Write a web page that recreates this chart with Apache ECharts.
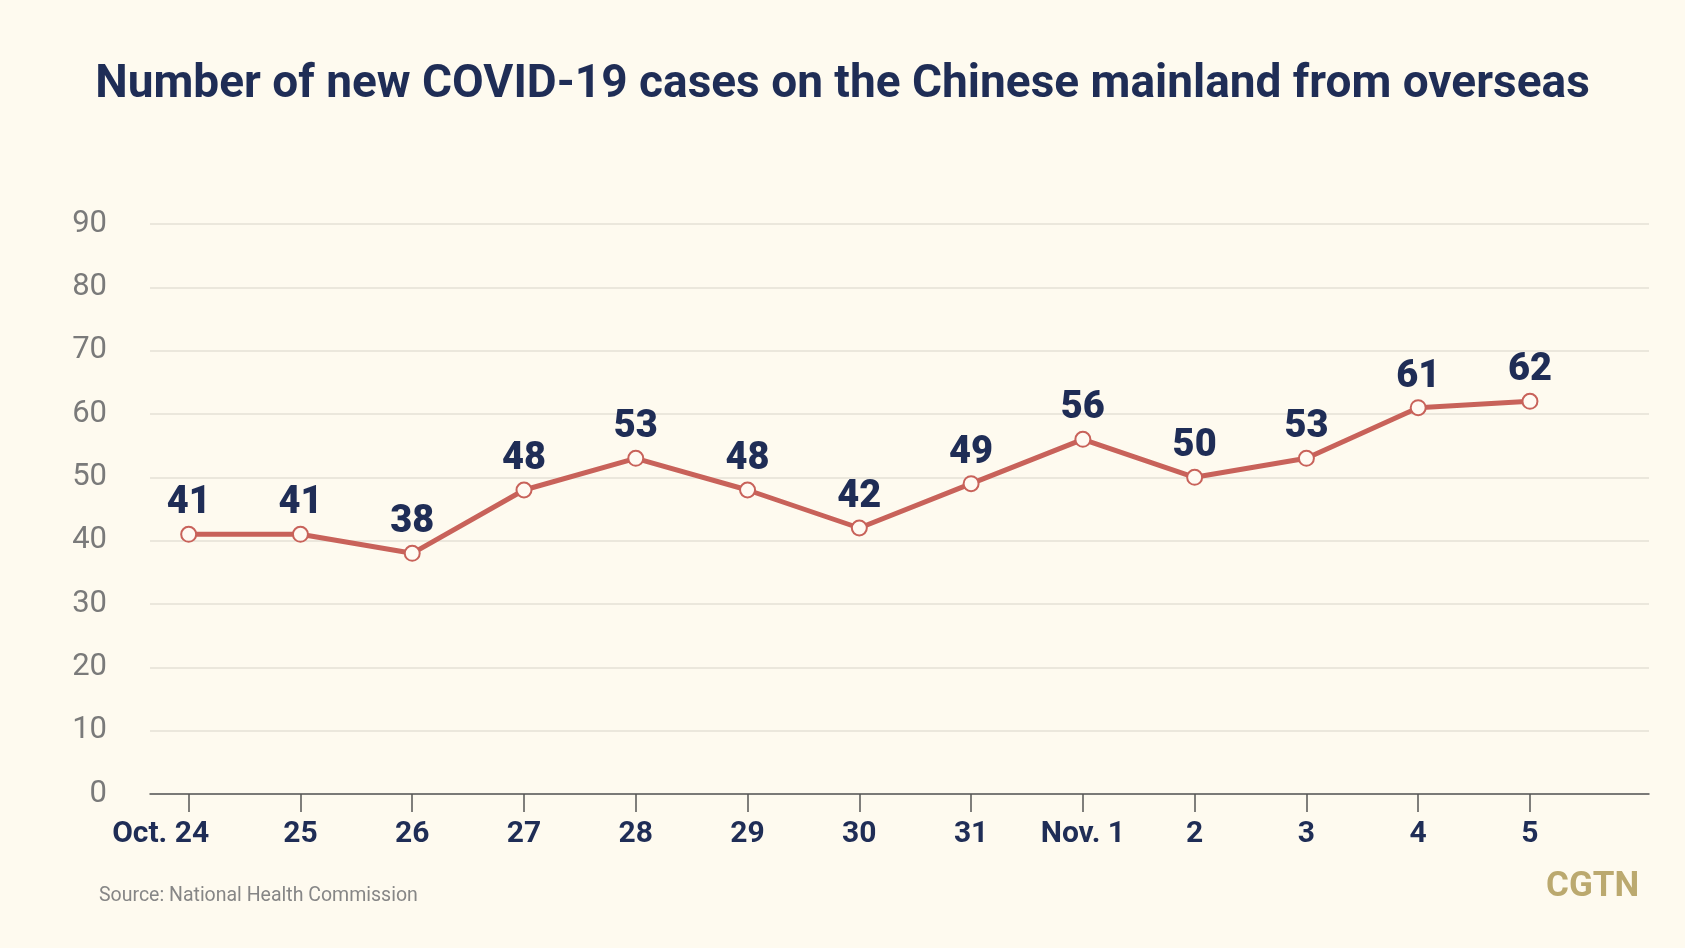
<!DOCTYPE html>
<html>
<head>
<meta charset="utf-8">
<script src="https://cdn.jsdelivr.net/npm/echarts@6/dist/echarts.min.js"></script>
<style>
html,body{margin:0;padding:0;background:#fefaef;}
#chart{width:1685px;height:948px;}
</style>
</head>
<body>
<div id="chart"></div>
<script>
const categories = ['Oct. 24','25','26','27','28','29','30','31','Nov. 1','2','3','4','5'];
const newCases = [41,41,38,48,53,48,42,49,56,50,53,61,62];
const yTicks = [0,10,20,30,40,50,60,70,80,90];

const FONT = 'Roboto, "Noto Sans", sans-serif';
const NAVY = '#1f2d56';
const LINE = '#c8625a';

const points = newCases.map((v, i) => [i, v]);
const tickIdx = categories.map((c, i) => i);

const chart = echarts.init(document.getElementById('chart'), null, {renderer: 'canvas'});
chart.setOption({
  backgroundColor: '#fefaef',
  animation: false,
  title: [
    {
      text: 'Number of new COVID-19 cases on the Chinese mainland from overseas',
      left: 'center',
      top: 57,
      textStyle: {fontFamily: FONT, fontWeight: 'bold', fontSize: 46, color: NAVY}
    },
    {
      text: 'Source: National Health Commission',
      left: 94,
      top: 881,
      textStyle: {fontFamily: FONT, fontWeight: 'normal', fontSize: 19.5, color: '#868686'}
    },
    {
      text: 'CGTN',
      left: 1541,
      top: 865,
      textStyle: {fontFamily: FONT, fontWeight: 'bold', fontSize: 35, color: '#bba96f'}
    }
  ],
  grid: {left: 150, right: 36, top: 224, bottom: 154},
  xAxis: {
    type: 'value',
    min: -0.346,
    max: 13.065,
    splitLine: {show: false},
    axisLine: {show: true, lineStyle: {color: '#555555', width: 1.5}},
    axisTick: {show: true, length: 18, customValues: tickIdx, lineStyle: {color: '#555555', width: 1.5}},
    axisLabel: {
      customValues: tickIdx,
      margin: 25,
      fontFamily: FONT,
      fontWeight: 'bold',
      fontSize: 30,
      color: NAVY,
      formatter: v => {
        const i = Math.round(v);
        return i === 0 ? '{first|' + categories[i] + '}' : categories[i];
      },
      rich: {
        first: {fontFamily: FONT, fontWeight: 'bold', fontSize: 30, color: NAVY, padding: [0, 56, 0, 0]}
      }
    }
  },
  yAxis: {
    type: 'value',
    min: yTicks[0],
    max: yTicks[yTicks.length - 1],
    interval: 10,
    axisLine: {show: false},
    axisTick: {show: false},
    splitLine: {show: true, lineStyle: {color: '#e4e1d6', width: 1.5}},
    axisLabel: {margin: 43, fontFamily: FONT, fontSize: 31, color: '#7a7a7a'}
  },
  series: [{
    type: 'line',
    data: points,
    symbol: 'circle',
    symbolSize: 15,
    lineStyle: {color: LINE, width: 5},
    itemStyle: {color: '#fffaf2', borderColor: LINE, borderWidth: 2},
    label: {
      show: true,
      position: 'top',
      distance: 3,
      fontFamily: FONT,
      fontWeight: 900,
      fontSize: 38,
      color: NAVY,
      formatter: p => p.value[1]
    },
    z: 5
  }]
});
</script>
</body>
</html>
